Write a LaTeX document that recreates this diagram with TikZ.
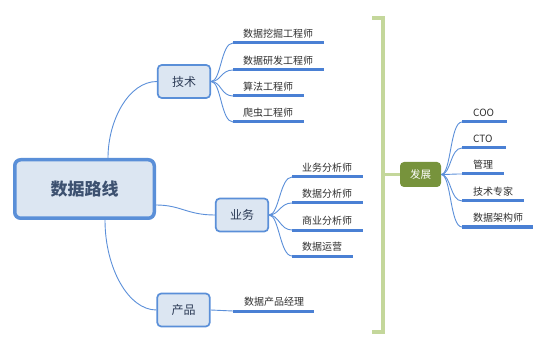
\documentclass[tikz,border=0pt]{standalone}
\usepackage{fontspec}
\setmainfont{Noto Sans CJK SC}
\definecolor{boxfill}{HTML}{DCE6F2}
\definecolor{boxline}{HTML}{5A8FD8}
\definecolor{conncol}{HTML}{5B8FD9}
\definecolor{ulcol}{HTML}{4A80D4}
\definecolor{brcol}{HTML}{C4D79B}
\definecolor{fzfill}{HTML}{77933C}
\definecolor{maintext}{HTML}{3D5170}
\definecolor{subtext}{HTML}{2B3A55}
\definecolor{leaftext}{HTML}{2E2E2E}
\begin{document}
\begin{tikzpicture}[x=1pt,y=1pt,
  centralbox/.style={draw=boxline, line width=3.5pt, fill=boxfill, rounded corners=6pt,
    minimum width=139.5pt, minimum height=58.5pt, inner sep=0pt,
    font=\fontsize{17}{20}\selectfont\bfseries, text=maintext},
  branchbox/.style={draw=boxline, line width=1.7pt, fill=boxfill, rounded corners=4pt,
    minimum width=52.5pt, minimum height=33pt, inner sep=0pt,
    font=\fontsize{12}{14}\selectfont, text=subtext},
  fzbox/.style={fill=fzfill, rounded corners=4pt, minimum width=41pt, minimum height=25pt,
    inner sep=0pt, font=\fontsize{10.5}{12}\selectfont, text=white},
  leaf/.style={anchor=south west, inner xsep=0pt, inner ysep=0pt, text depth=5pt,
    align=left, font=\fontsize{10}{12}\selectfont, text=leaftext},
  conn/.style={draw=conncol, line width=0.9pt},
  uline/.style={draw=ulcol, line width=3pt},
  bracket/.style={draw=brcol, line width=3.6pt}
]
\useasboundingbox (0,0) rectangle (546,-339);

% central and branch nodes
\node[centralbox] (c) at (84.5,-189) {数据路线};
\node[branchbox] (tech) at (184,-81.5) {技术};
\node[branchbox] (biz) at (242,-215) {业务};
\node[branchbox] (prod) at (183.5,-310) {产品};
\node[fzbox] (fz) at (420.5,-174.5) {发展};

% leaves of 技术
\node[leaf, text width=91pt] (t1) at (233,-43) {\hspace*{10pt}数据挖掘工程师};
\node[leaf, text width=91pt] (t2) at (233,-70) {\hspace*{10pt}数据研发工程师};
\node[leaf, text width=71pt] (t3) at (233,-96) {\hspace*{10pt}算法工程师};
\node[leaf, text width=71pt] (t4) at (233,-122) {\hspace*{10pt}爬虫工程师};
% leaves of 业务
\node[leaf, text width=71pt] (b1) at (292,-177) {\hspace*{10pt}业务分析师};
\node[leaf, text width=71pt] (b2) at (292,-203) {\hspace*{10pt}数据分析师};
\node[leaf, text width=71pt] (b3) at (292,-230) {\hspace*{10pt}商业分析师};
\node[leaf, text width=61pt] (b4) at (292,-256) {\hspace*{10pt}数据运营};
% leaf of 产品
\node[leaf, text width=81pt] (p1) at (233,-311) {\hspace*{11pt}数据产品经理};
% leaves of 发展
\node[leaf, text width=45pt] (f1) at (462,-122) {\hspace*{11pt}COO};
\node[leaf, text width=44pt] (f2) at (462,-148) {\hspace*{11pt}CTO};
\node[leaf, text width=42pt] (f3) at (462,-174) {\hspace*{11pt}管理};
\node[leaf, text width=62pt] (f4) at (462,-201) {\hspace*{11pt}技术专家};
\node[leaf, text width=71pt] (f5) at (462,-227) {\hspace*{11pt}数据架构师};

% underlines
\foreach \n in {t1,t2,t3,t4,b1,b2,b3,b4,p1,f1,f2,f3,f4,f5}
  \draw[uline] (\n.south west) -- (\n.south east);

% central connectors
\draw[conn] (c.north -| 108,0) .. controls +(0,38) and +(-28,0) .. (tech.west);
\draw[conn] (c.east |- 0,-205) .. controls +(25,0) and +(-28,0) .. (biz.west);
\draw[conn] (c.south -| 105,0) .. controls +(0,-48) and +(-28,0) .. (prod.west);

% branch connectors
\foreach \n in {t1,t2,t3,t4}
  \draw[conn] (tech.east) .. controls +(10,0) and +(-12,0) .. (\n.south west);
\foreach \n in {b1,b2,b3,b4}
  \draw[conn] (biz.east) .. controls +(10,0) and +(-12,0) .. (\n.south west);
\draw[conn] (prod.east) -- (p1.south west);
\foreach \n in {f1,f2,f3,f4,f5}
  \draw[conn] (fz.east) .. controls +(10,0) and +(-12,0) .. (\n.south west);

% summary bracket
\coordinate (brtop) at (372,-18);
\coordinate (brbot) at (372,-332);
\coordinate (brmid) at (383,-174.5);
\draw[bracket] (brtop) -- (383,-18) -- (383,-332) -- (brbot);
\draw[bracket] (brmid) -- (fz.west);
\end{tikzpicture}
\end{document}
